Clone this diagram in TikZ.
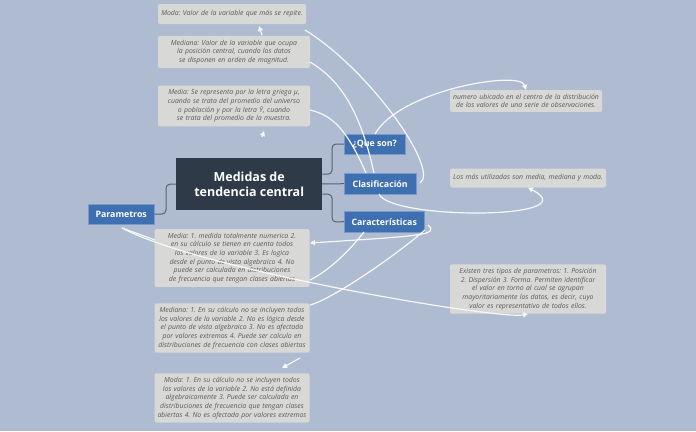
\documentclass[tikz,border=0pt]{standalone}
\usepackage{fontspec}
\setmainfont{Open Sans}
\newfontfamily\dejavu{DejaVu Sans}
\usetikzlibrary{arrows.meta}
\hyphenpenalty=10000
\exhyphenpenalty=10000
\frenchspacing
\definecolor{bg}{HTML}{AEBBD1}
\definecolor{notef}{HTML}{D8D9D6}
\definecolor{notet}{HTML}{5A5A5A}
\definecolor{blu}{HTML}{3E6FB0}
\definecolor{dark}{HTML}{2E3A48}
\begin{document}
\begin{tikzpicture}[x=1pt,y=-1pt,
 note/.style={fill=notef,rounded corners=2pt,text=notet,font=\itshape\fontsize{6.9}{8.6}\selectfont,align=center,inner xsep=3pt,inner ysep=4pt},
 br/.style={fill=blu,draw=blu!70!white,text=white,font=\bfseries\fontsize{8.8}{10}\selectfont,anchor=north west,inner sep=0pt,align=center},
 trunk/.style={draw=dark!80,line width=1pt,rounded corners=4pt},
 wl/.style={draw=white!90!bg,line width=1.2pt,-{Triangle[width=5pt,length=5pt]}},
 wn/.style={draw=white!90!bg,line width=1.2pt}]
\fill[bg] (0,0) rectangle (696,431);
\useasboundingbox (0,0) rectangle (696,431);
\node[fill=dark,text=white,font=\bfseries\fontsize{12.5}{15.5}\selectfont,align=center,minimum width=146pt,minimum height=52pt,anchor=north west,inner sep=0pt] (c) at (176,158) {Medidas de\\tendencia central};
\node[br,minimum width=66pt,minimum height=20pt] (par) at (88,204) {Parametros};
\node[br,minimum width=61pt,minimum height=20pt] (que) at (344,134) {¿Que son?};
\node[br,minimum width=72pt,minimum height=21pt] (cla) at (344,173) {Clasificación};
\node[br,minimum width=80pt,minimum height=21pt] (car) at (344,211) {Características};
\node[note,text width=142pt,minimum height=20pt] (n1) at (232,14) {Moda: Valor de la variable que más se repite.};
\node[note,text width=146pt] (n2) at (234,52) {Mediana: Valor de la variable que ocupa la posición central, cuando los datos se disponen en orden de magnitud.};
\node[note,text width=146pt] (n3) at (234,106) {Media: Se representa por la letra griega µ, cuando se trata del promedio del universo o población y por la letra {\dejavu\fontsize{6.3}{8}\selectfont Ȳ}, cuando se trata del promedio de la muestra.};
\node[note,text width=146pt] (n4) at (526,101) {numero ubicado en el centro de la distribución de los valores de una serie de observaciones.};
\node[note,text width=150pt,minimum height=19pt] (n5) at (528,178) {Los más utilizadas son media, mediana y moda.};
\node[note,text width=150pt] (n6) at (528,289) {Existen tres tipos de parametros: 1. Posición 2. Dispersión 3. Forma. Permiten identificar el valor en torno al cual se agrupan mayoritariamente los datos, es decir, cuyo valor es representativo de todos ellos.};
\node[note,text width=149pt] (n7) at (232,258) {Media: 1. medida totalmente numerica 2. en su cálculo se tienen en cuenta todos los valores de la variable 3. Es logica desde el punto de vista algebraico 4. No puede ser calculada en distribuciones de frecuencia que tengan clases abiertas};
\node[note,text width=149pt] (n8) at (232,328) {Mediana: 1. En su cálculo no se incluyen todos los valores de la variable 2. No es lógica desde el punto de vista algebraico 3. No es afectada por valores extremos 4. Puede ser calculo en distribuciones de frecuencia con clases abiertas};
\node[note,text width=149pt] (n9) at (232,398) {Moda: 1. En su cálculo no se incluyen todos los valores de la variable 2. No está definida algebraicamente 3. Puede ser calculada en distribuciones de frecuencia que tengan clases abiertas 4. No es afectada por valores extremos};
% trunks
\draw[trunk] (c.east) ++(0,-10) -| (332,144) -- (que.west);
\draw[trunk] (322,184) -- (cla.west);
\draw[trunk] (c.east) ++(0,10) -| (332,222) -- (car.west);
\draw[trunk] (par.east) -- (166,214) |- (c.west);
% white connectors
\draw[wl] (375,134) .. controls (400,90) and (520,70) .. (n4.north);
\draw[wl] (379,194) .. controls (390,220) and (590,220) .. (n5.south);
\draw[wn] (310,62) .. controls (340,80) and (360,110) .. (374,173);
\draw[wn] (305,30) .. controls (370,70) and (440,170) .. (420,183);
\draw[wn] (310,110) .. controls (330,115) and (345,125) .. (366,173);
\draw[wl] (262,35) -- (259,26);
\draw[wl] (262,137) -- (264,131);
\draw[wl] (428,225) .. controls (440,235) and (420,236) .. (310,243);
\draw[wn] (425,230) .. controls (390,260) and (330,300) .. (310,305);
\draw[wn] (364,232) .. controls (350,250) and (330,270) .. (310,280);
\draw[wl] (300,358) -- (282,368);
\draw[wl] (122,228) .. controls (200,270) and (500,320) .. (n6.south);
\draw[wn] (155,240) -- (122,228);
\end{tikzpicture}
\end{document}
